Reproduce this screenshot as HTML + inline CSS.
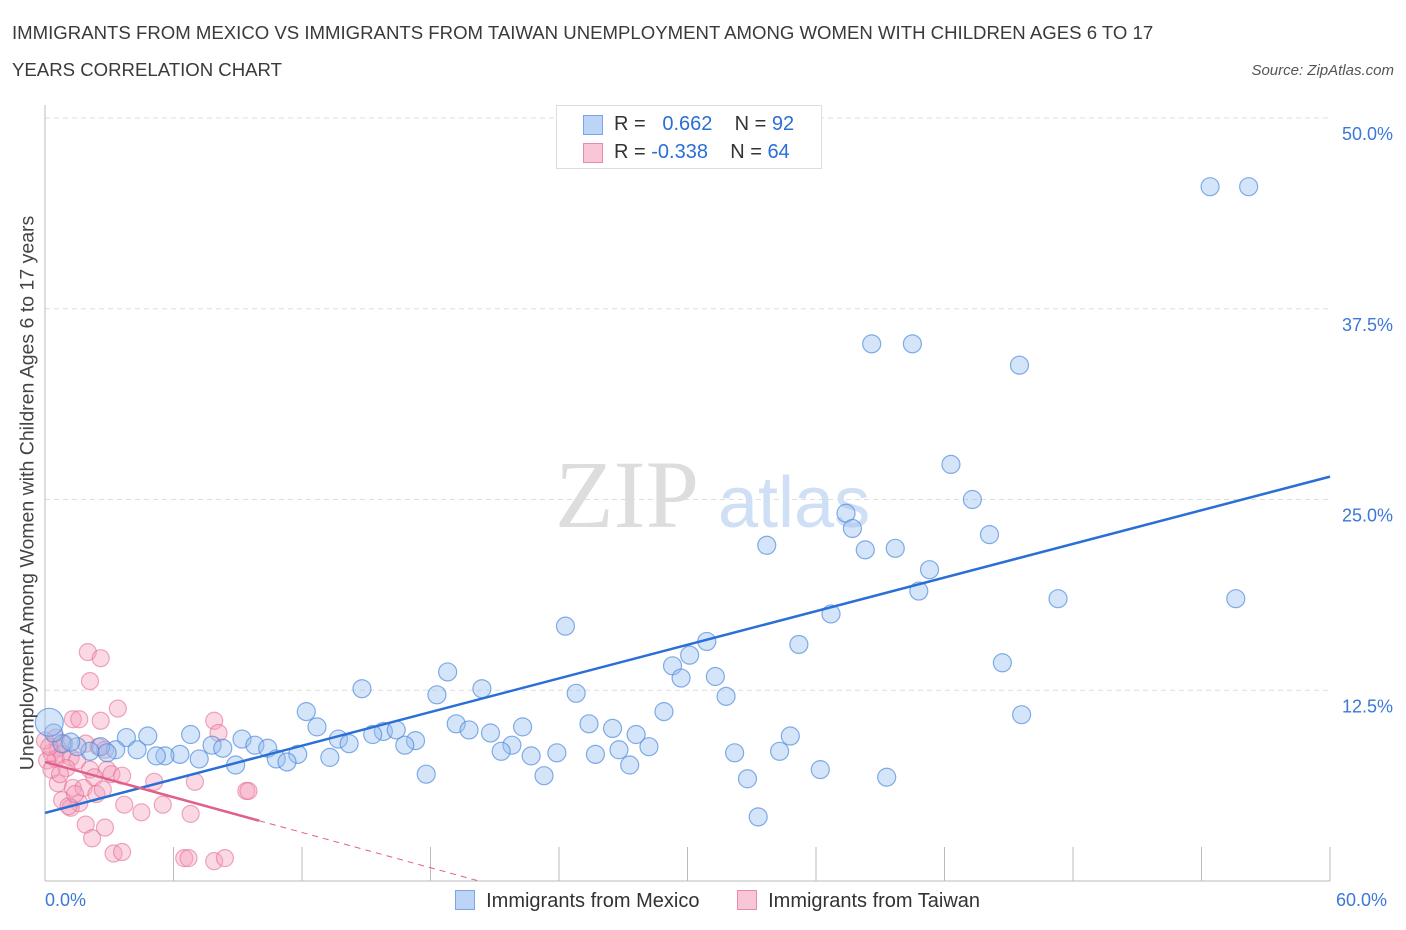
<!DOCTYPE html>
<html><head><meta charset="utf-8">
<style>
body{margin:0;background:#fff;font-family:"Liberation Sans",sans-serif;}
#wrap{position:relative;width:1406px;height:930px;overflow:hidden;}
.t{position:absolute;white-space:nowrap;}
</style></head><body>
<div id="wrap">
<div class="t" style="left:12px;top:21px;font-size:18.6px;color:#3a3a3a;line-height:24px;">IMMIGRANTS FROM MEXICO VS IMMIGRANTS FROM TAIWAN UNEMPLOYMENT AMONG WOMEN WITH CHILDREN AGES 6 TO 17</div>
<div class="t" style="left:12px;top:59px;font-size:18.6px;color:#3a3a3a;">YEARS CORRELATION CHART</div>
<div class="t" style="right:12px;top:62px;font-size:15px;color:#555;font-style:italic;">Source: ZipAtlas.com</div>
<svg id="svg" width="1406" height="930" style="position:absolute;left:0;top:0"></svg>
</div>
<script>
const blueX=[54.4,56.2,38.6,40.5,45.5,42.3,43.3,37.4,37.7,44.1,33.7,38.3,39.7,41.3,40.8,47.3,55.6,36.7,24.3,30.9,35.2,30.1,29.3,29.7,31.3,44.7,18.8,20.4,14.8,18.3,24.8,31.8,12.2,28.9,45.6,12.7,19.2,25.4,26.5,22.3,19.8,20.8,15.8,16.4,15.3,13.7,17.3,27.6,34.8,21.8,16.8,14.2,26.8,28.2,21.3,22.7,23.9,25.7,32.2,34.3,6.8,4.8,3.8,9.2,9.8,10.4,7.2,7.8,8.3,4.3,6.3,5.6,5.2,3.3,2.6,2.1,1.5,0.8,0.4,0.2,11.8,10.8,11.3,13.3,8.9,27.3,17.8,23.3,32.8,36.2,39.3,33.3,1.2,2.9];
const blueY=[45.5,45.5,35.2,35.2,33.8,27.3,25.0,24.1,23.1,22.7,22.0,21.7,21.8,20.4,19.0,18.5,18.5,17.5,16.7,15.7,15.5,14.8,14.1,13.3,13.4,14.3,13.7,12.6,12.6,12.2,12.3,12.1,11.1,11.1,10.9,10.1,10.3,10.3,10.0,10.1,9.9,9.7,9.8,9.9,9.6,9.3,9.2,9.6,9.5,8.9,8.9,9.0,8.6,8.8,8.5,8.2,8.4,8.3,8.4,8.5,9.6,9.5,9.4,9.3,8.9,8.7,8.0,8.9,8.7,8.6,8.3,8.2,8.2,8.6,8.8,8.5,8.8,9.0,9.7,10.4,8.3,8.0,7.8,8.1,7.6,7.6,7.0,6.9,6.7,7.3,6.8,4.2,9.1,8.4];
const pinkX=[2.0,2.6,2.1,1.3,1.6,2.6,3.4,7.9,8.1,0.5,0.9,1.9,2.5,2.8,0.6,0.3,0.8,0.5,1.2,1.5,0.1,1.0,2.1,2.9,3.1,2.3,3.6,5.1,7.0,9.4,9.5,0.6,1.3,1.8,2.4,2.7,0.8,1.6,3.7,4.5,5.5,6.8,1.2,1.9,2.8,2.2,3.2,3.6,6.5,6.7,7.9,8.4,1.1,1.4,0.3,0.7,0.0,0.2];
const pinkY=[15.0,14.6,13.1,10.6,10.6,10.5,11.3,10.5,9.7,9.4,9.0,9.0,8.8,8.6,8.7,8.4,8.3,8.0,8.1,7.9,7.9,7.4,7.3,7.3,7.0,6.8,6.9,6.5,6.5,5.9,5.9,6.4,6.1,6.1,5.7,6.0,5.3,5.1,5.0,4.5,5.0,4.4,4.8,3.7,3.5,2.8,1.8,1.9,1.5,1.5,1.3,1.5,4.9,5.7,7.3,7.0,9.2,8.8];
const yTicks=[12.5,25,37.5,50];
const yTickLabels=["12.5%","25.0%","37.5%","50.0%"];
const blueFit=[4.46,26.5];
const pinkFit=[7.8,-0.385];
const X=v=>45+v*21.417, Y=v=>881-v*15.26;
const svg=document.getElementById('svg');
const NS='http://www.w3.org/2000/svg';
function mk(tag,at,parent){const e=document.createElementNS(NS,tag);for(const k in at)e.setAttribute(k,at[k]);(parent||svg).appendChild(e);return e;}
yTicks.forEach((t,i)=>{
 const g=mk('line',{x1:45,x2:1330,y1:Y(t),y2:Y(t),stroke:'#ddd','stroke-dasharray':'5,4'});
 
 
 const tx=mk('text',{x:1393,y:Y(t)+22,'text-anchor':'end','font-size':18,fill:'#3b78d8','font-family':'Liberation Sans'});
 tx.textContent=yTickLabels[i];
 
 
});
const ax=mk('line',{x1:45,x2:1330,y1:881,y2:881,stroke:'#bbb'});


const ay=mk('line',{x1:45,x2:45,y1:105,y2:881,stroke:'#bbb'});


for(let i=1;i<=10;i++){const tk=mk('line',{x1:X(i*6),x2:X(i*6),y1:847,y2:881,stroke:'#bbb'});
 
 }
const wm=mk('text',{x:555,y:527,'font-size':96,fill:'#ddd','font-family':'Liberation Serif'});wm.textContent='ZIP';


const wm2=mk('text',{x:718,y:527,'font-size':72,fill:'#cfdff5','font-family':'Liberation Sans'});wm2.textContent='atlas';


pinkX.forEach((x,i)=>{const c=mk('circle',{cx:X(x),cy:Y(pinkY[i]),r:8.5,fill:'rgba(244,160,188,0.4)',stroke:'rgba(228,110,150,0.6)','stroke-width':1.2});
 
 });
blueX.forEach((x,i)=>{const c=mk('circle',{cx:X(x),cy:Y(blueY[i]),r:(i==79?14:9),fill:'rgba(150,190,240,0.4)',stroke:'rgba(80,140,220,0.7)','stroke-width':1.2});
 
 });
const bl=mk('line',{x1:X(0),y1:Y(blueFit[0]),x2:X(60),y2:Y(blueFit[1]),stroke:'#2a6fd6','stroke-width':2.5});


const pe=10, pz=-pinkFit[0]/pinkFit[1];
const pl=mk('line',{x1:X(0),y1:Y(pinkFit[0]),x2:X(pe),y2:Y(pinkFit[0]+pinkFit[1]*pe),stroke:'#e0608a','stroke-width':2.5});


const pd=mk('line',{x1:X(pe),y1:Y(pinkFit[0]+pinkFit[1]*pe),x2:X(pz),y2:Y(0),stroke:'#e0608a','stroke-width':1,'stroke-dasharray':'6,5'});


</script>
<div class="t" style="left:45px;top:890px;font-size:18px;color:#3b78d8;">0.0%</div>
<div class="t" style="left:1336px;top:890px;font-size:18px;color:#3b78d8;">60.0%</div>
<div class="t" style="left:28px;top:493px;font-size:19.5px;color:#444;transform:translate(-50%,-50%) rotate(-90deg);">Unemployment Among Women with Children Ages 6 to 17 years</div>
<div style="position:absolute;left:556px;top:105px;width:264px;height:62px;border:1px solid #ddd;background:#fff;font-size:20px;">
 <div style="position:absolute;left:26px;top:9px;width:18px;height:18px;background:#bcd4f5;border:1px solid #7aa6e6;"></div>
 <div class="t" style="left:57px;top:7px;color:#333;">R = &nbsp;<span style="color:#2a6fd6">&nbsp;0.662</span>&nbsp;&nbsp;&nbsp; N = <span style="color:#2a6fd6">92</span></div>
 <div style="position:absolute;left:26px;top:37px;width:18px;height:18px;background:#f8c6d6;border:1px solid #e88aab;"></div>
 <div class="t" style="left:57px;top:35px;color:#333;">R = <span style="color:#2a6fd6">-0.338</span>&nbsp;&nbsp;&nbsp; N = <span style="color:#2a6fd6">64</span></div>
</div>
<div style="position:absolute;left:455px;top:890px;font-size:20px;color:#333;">
 <span style="display:inline-block;width:18px;height:18px;background:#bcd4f5;border:1px solid #7aa6e6;vertical-align:-3px;"></span>&nbsp; Immigrants from Mexico</div>
<div style="position:absolute;left:737px;top:890px;font-size:20px;color:#333;">
 <span style="display:inline-block;width:18px;height:18px;background:#f8c6d6;border:1px solid #e88aab;vertical-align:-3px;"></span>&nbsp; Immigrants from Taiwan</div>
</body></html>
